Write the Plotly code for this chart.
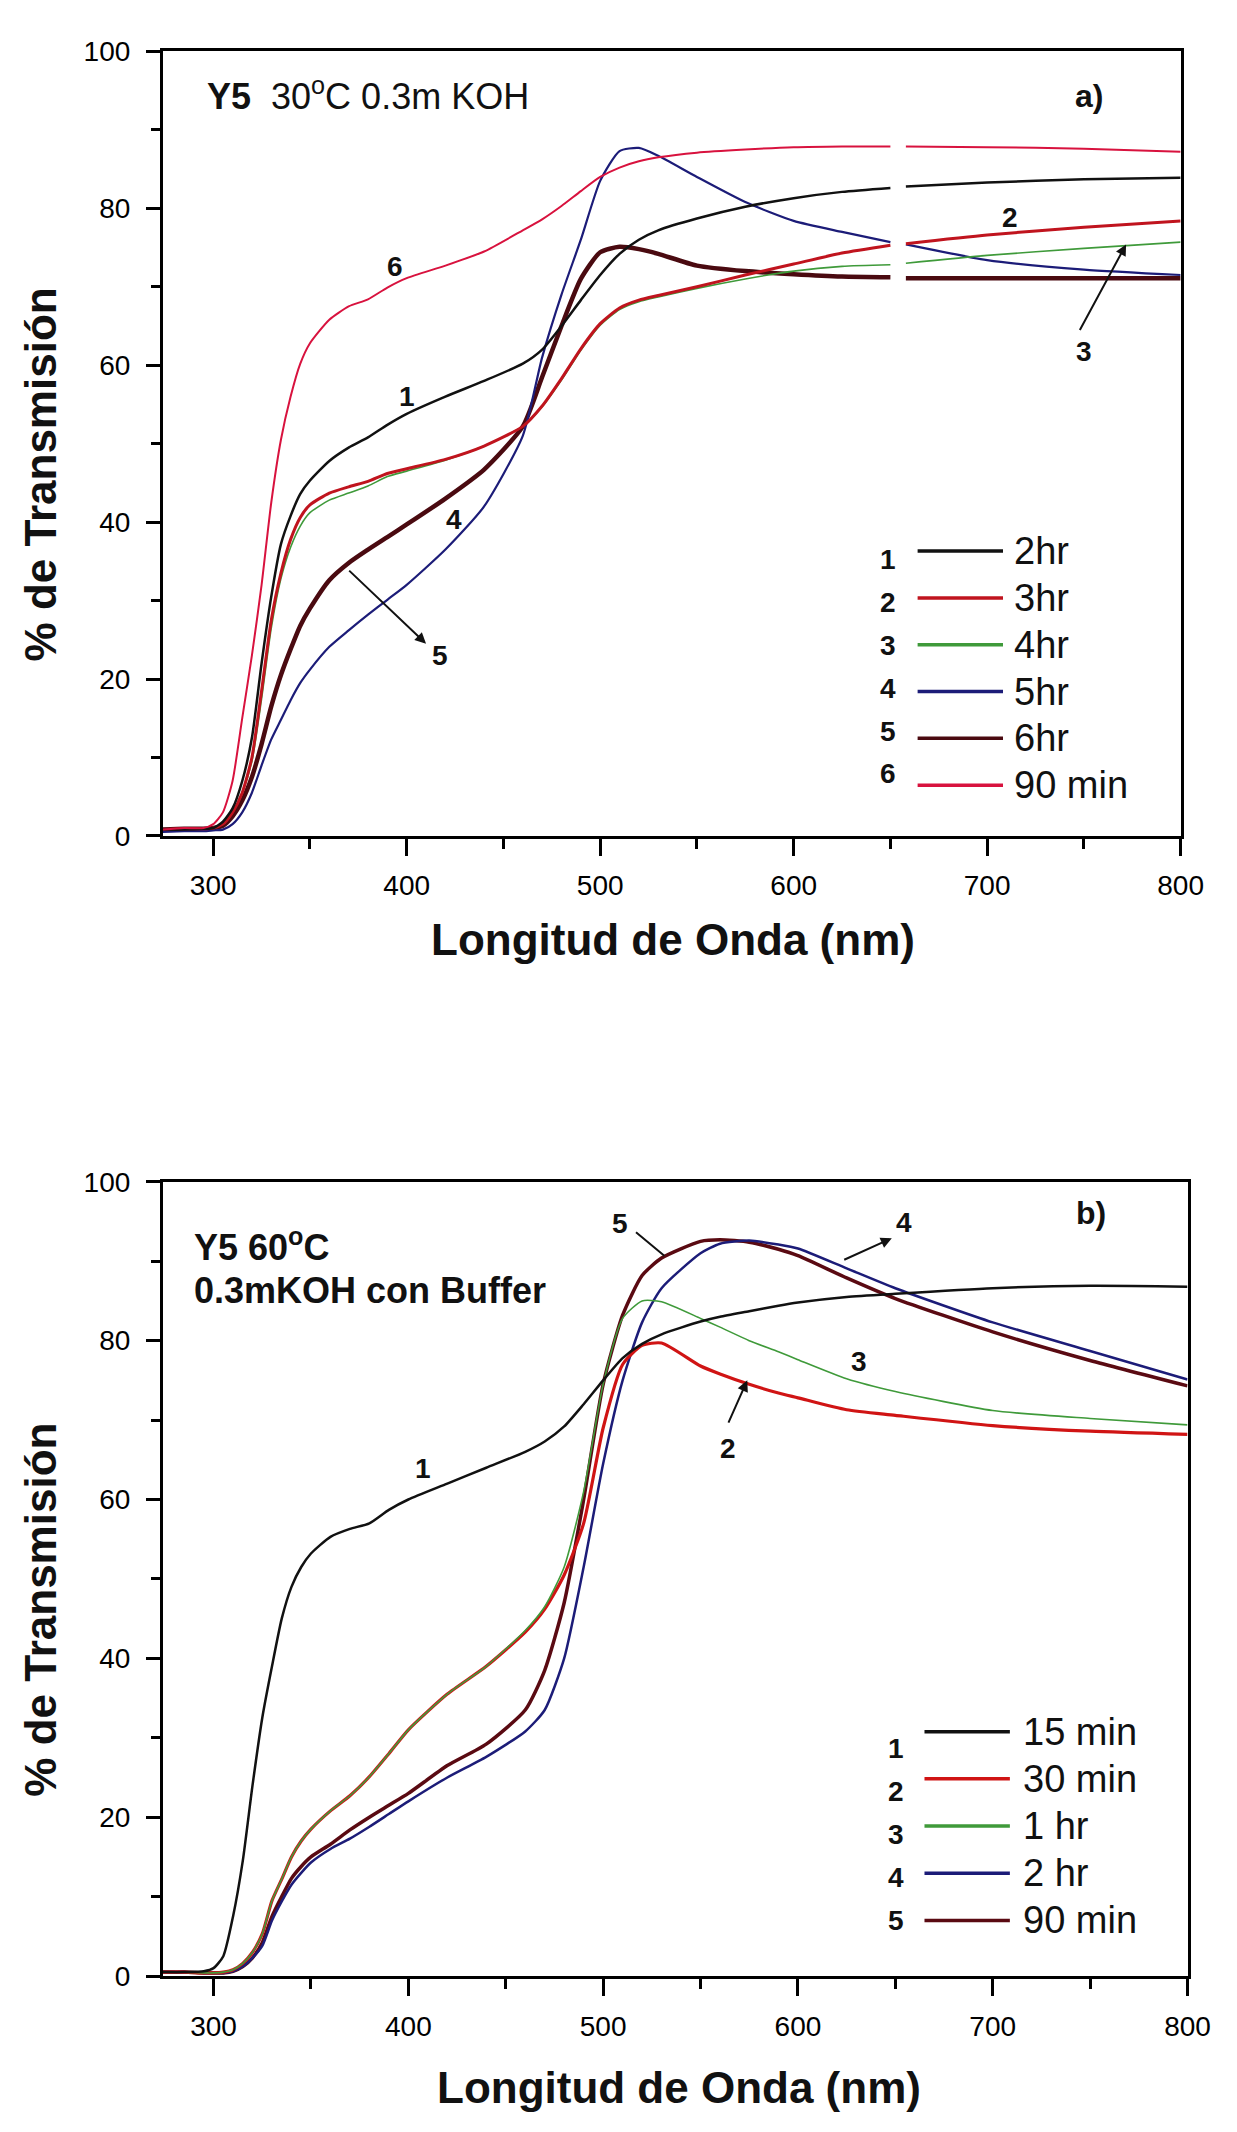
import plotly.graph_objects as go

FIG_W, FIG_H = 1237, 2132
FONT = "Liberation Sans, Arial, Helvetica, sans-serif"

# ---------------- Panel a): Y5, 30 C, 0.3 m KOH ----------------
wl_a = [274, 285, 295, 300, 305, 310, 315, 320, 325, 330,
        335, 340, 345, 350, 360, 370, 380, 390, 400, 420,
        440, 460, 470, 480, 490, 500, 510, 520, 530, 550,
        575, 600, 625, 650, 654, 658, 700, 750, 800]

a_2hr = [0.8, 0.8, 0.9, 1.0, 1.8, 3.5, 7, 12.5, 22, 30.5,
         37.2, 40.8, 43.6, 45.3, 47.8, 49.5, 50.8, 52.4, 53.8, 56,
         58, 60.2, 62, 65, 68.3, 71.5, 74.2, 76, 77.2, 78.7,
         80.2, 81.3, 82.1, 82.6, None, 82.8, 83.3, 83.7, 83.9]
a_3hr = [0.8, 0.9, 0.9, 1.0, 1.5, 3, 5.5, 10, 18.5, 27.5,
         33.5, 37.8, 40.6, 42.2, 43.7, 44.5, 45.2, 46.2, 46.8, 48,
         49.7, 52.2, 54.8, 58.3, 62.1, 65.3, 67.3, 68.3, 68.9, 70,
         71.5, 72.9, 74.3, 75.3, None, 75.5, 76.6, 77.6, 78.4]
a_4hr = [0.8, 0.9, 0.9, 1.0, 1.5, 3, 5.5, 9.5, 17.5, 26.5,
         32.8, 36.8, 39.5, 41.2, 42.8, 43.7, 44.6, 45.8, 46.5, 47.9,
         49.7, 52.2, 54.7, 58.1, 61.9, 65.1, 67.1, 68.1, 68.7, 69.8,
         71, 72, 72.6, 72.8, None, 73, 74, 74.9, 75.7]
a_5hr = [0.5, 0.6, 0.6, 0.7, 0.8, 1.5, 3, 5.5, 9, 12.3,
         14.8, 17.3, 19.5, 21.2, 24.1, 26.2, 28.2, 30.1, 32, 36.5,
         42, 51, 61, 69, 76, 83.5, 87.3, 87.7, 86.7, 84,
         80.8, 78.4, 77, 75.7, None, 75.4, 73.4, 72.2, 71.5]
a_6hr = [0.8, 0.9, 0.9, 1.0, 1.3, 2.5, 4.5, 7.5, 11.7, 16.5,
         20.5, 23.8, 26.8, 29, 32.6, 34.8, 36.5, 38.1, 39.7, 43,
         46.7, 52.2, 58.5, 65, 71, 74.4, 75.1, 74.8, 74.2, 72.7,
         72, 71.6, 71.3, 71.2, None, 71.1, 71.1, 71.1, 71.1]
a_90min = [0.8, 1.0, 1.0, 1.5, 3, 7, 15, 23, 32, 42.5,
           50.5, 56, 60.2, 62.8, 65.8, 67.5, 68.4, 69.9, 71.1, 72.7,
           74.5, 77.2, 78.6, 80.3, 82.2, 84, 85.2, 86, 86.5, 87.1,
           87.5, 87.8, 87.9, 87.9, None, 87.9, 87.8, 87.6, 87.2]

series_a = [a_2hr, a_3hr, a_4hr, a_5hr, a_6hr, a_90min]
names_a = ["2hr", "3hr", "4hr", "5hr", "6hr", "90 min"]
colors_a = ["#111111", "#c0141e", "#3f9a3a", "#1c1c78", "#4a0a10", "#d8123e"]
widths_a = [2.5, 3, 1.6, 2.2, 4.5, 2]

# ---------------- Panel b): Y5, 60 C, 0.3 m KOH con Buffer ----------------
wl_b = [274, 285, 295, 300, 305, 310, 315, 320, 325, 330,
        335, 340, 345, 350, 360, 370, 380, 390, 400, 420,
        440, 460, 470, 480, 490, 500, 510, 520, 530, 550,
        560, 575, 590, 600, 625, 650, 700, 750, 800]

b_15min = [0.5, 0.5, 0.6, 1.0, 2.5, 7.5, 14.5, 24, 32.5, 39,
           45, 49, 51.5, 53.2, 55.3, 56.3, 57, 58.7, 60, 62,
           64, 66, 67.3, 69.2, 72, 75, 77.8, 79.6, 80.8, 82.4,
           83, 83.7, 84.4, 84.8, 85.5, 85.9, 86.6, 86.9, 86.8]
b_30min = [0.5, 0.5, 0.4, 0.4, 0.5, 0.8, 1.6, 3, 5.3, 9.5,
           12.2, 15, 17, 18.5, 20.8, 22.7, 25.1, 28, 31, 35.5,
           39, 43.3, 46.2, 50.5, 57, 69, 77, 79.4, 79.7, 76.8,
           75.8, 74.5, 73.4, 72.8, 71.3, 70.6, 69.3, 68.6, 68.2]
b_1hr = [0.5, 0.5, 0.4, 0.4, 0.5, 0.8, 1.6, 3, 5.3, 9.5,
         12.2, 15, 17, 18.5, 20.8, 22.7, 25.1, 28, 31, 35.5,
         39, 43.5, 46.5, 51.5, 61, 74.5, 82.8, 85, 84.9, 82.8,
         81.7, 80, 78.6, 77.6, 75.2, 73.6, 71.2, 70.2, 69.4]
b_2hr = [0.5, 0.5, 0.4, 0.4, 0.4, 0.6, 1.2, 2.3, 3.8, 7,
         9.4, 11.5, 13, 14.3, 16, 17.3, 18.8, 20.4, 22, 25,
         27.6, 30.8, 33.5, 40, 51.5, 64.5, 75, 82.3, 86.6, 91,
         92.2, 92.6, 92.1, 91.6, 89.1, 86.6, 82.3, 78.7, 75.1]
b_90min = [0.5, 0.5, 0.4, 0.4, 0.4, 0.6, 1.2, 2.3, 4.2, 7.5,
           10, 12.3, 13.8, 15, 16.6, 18.4, 20, 21.5, 23, 26.5,
           29.2, 33.5, 38.5, 47, 60, 74.5, 83.2, 88.2, 90.4, 92.5,
           92.7, 92.4, 91.5, 90.7, 87.9, 85.3, 81.1, 77.5, 74.3]

series_b = [b_15min, b_30min, b_1hr, b_2hr, b_90min]
names_b = ["15 min", "30 min", "1 hr", "2 hr", "90 min"]
colors_b = ["#111111", "#d01414", "#3f9a3a", "#1c1c78", "#5a0a12"]
widths_b = [2.5, 3.2, 1.6, 2.5, 3.5]

x_ticks = [300, 400, 500, 600, 700, 800]
y_ticks = [0, 20, 40, 60, 80, 100]


def px(x):
    return x / FIG_W


def py(y):
    return 1 - y / FIG_H


fig = go.Figure()

# thick curves first so the thin ones stay visible on top
order_a = [4, 3, 2, 1, 0, 5]
for i in order_a:
    fig.add_trace(go.Scatter(
        x=wl_a, y=series_a[i], mode="lines", name=names_a[i],
        line=dict(color=colors_a[i], width=widths_a[i], shape="spline", smoothing=0.6),
        connectgaps=False, xaxis="x", yaxis="y", showlegend=False))

order_b = [4, 3, 1, 2, 0]
for i in order_b:
    fig.add_trace(go.Scatter(
        x=wl_b, y=series_b[i], mode="lines", name=names_b[i],
        line=dict(color=colors_b[i], width=widths_b[i], shape="spline", smoothing=0.6),
        xaxis="x2", yaxis="y2", showlegend=False))

tickfont = dict(family=FONT, size=28, color="#000000")
common = dict(showline=True, linewidth=3, linecolor="black", mirror=True,
              ticks="outside", tickwidth=2.5, tickcolor="black",
              showgrid=False, zeroline=False, tickfont=tickfont)

xaxis_common = dict(common, range=[274, 800], tickmode="array", tickvals=x_ticks,
                    ticklen=17, ticklabelstandoff=6,
                    minor=dict(tick0=300, dtick=50, ticks="outside", ticklen=10,
                               tickwidth=2.5, tickcolor="black"))
yaxis_common = dict(common, range=[0, 100], tickmode="array", tickvals=y_ticks,
                    ticklen=14, ticklabelstandoff=10,
                    minor=dict(tick0=0, dtick=10, ticks="outside", ticklen=9,
                               tickwidth=2.5, tickcolor="black"))

fig.update_layout(
    width=FIG_W, height=FIG_H,
    margin=dict(l=0, r=0, t=0, b=0),
    paper_bgcolor="white", plot_bgcolor="white",
    showlegend=False,
    xaxis=dict(xaxis_common, domain=[px(166), px(1203)], anchor="y"),
    yaxis=dict(yaxis_common, domain=[py(833), py(37)], anchor="x"),
    xaxis2=dict(xaxis_common, domain=[px(166), px(1210)], anchor="y2"),
    yaxis2=dict(yaxis_common, domain=[py(1990), py(1184)], anchor="x2"),
)

ann = []
shapes = []


def paper_text(text, x, y, size, bold=False, xanchor="center", yanchor="middle", angle=0):
    t = f"<b>{text}</b>" if bold else text
    ann.append(dict(text=t, x=px(x), y=py(y), xref="paper", yref="paper",
                    xanchor=xanchor, yanchor=yanchor, showarrow=False, textangle=angle,
                    font=dict(family=FONT, size=size, color="#111111")))


def data_text(text, x, y, axis, size=28):
    ann.append(dict(text=f"<b>{text}</b>", x=x, y=y, xref="x" + axis, yref="y" + axis,
                    showarrow=False, font=dict(family=FONT, size=size, color="#111111")))


def data_arrow(head, tail, axis, head_style=2):
    ann.append(dict(text="", x=head[0], y=head[1], ax=tail[0], ay=tail[1],
                    xref="x" + axis, yref="y" + axis, axref="x" + axis, ayref="y" + axis,
                    showarrow=True, arrowhead=head_style, arrowsize=1.1, arrowwidth=2,
                    arrowcolor="#111111"))


# axis titles
for yc in (466, 1618):
    paper_text("% de Transmisión", 41, yc, 44, bold=True, angle=-90)
paper_text("Longitud de Onda (nm)", 686, 938, 44, bold=True)
paper_text("Longitud de Onda (nm)", 692, 2103, 44, bold=True)

# panel a) texts
ann.append(dict(text="<b>Y5</b>\u00a0\u00a030<sup>o</sup>C 0.3m KOH", x=295.6, y=94.6,
                xref="x", yref="y", xanchor="left", yanchor="middle", showarrow=False,
                font=dict(family=FONT, size=36, color="#111111")))
data_text("a)", 752.7, 94.3, "", size=32)
data_text("6", 393.9, 72.6, "")
data_text("1", 400.0, 56.0, "")
data_text("4", 424.3, 40.3, "")
data_text("5", 417.2, 23.0, "")
data_text("2", 711.7, 78.8, "")
data_text("3", 749.8, 61.7, "")
data_arrow((410.0, 24.5), (369.5, 34.0), "")
data_arrow((771.8, 75.4), (747.5, 64.3), "")

# panel b) texts
ann.append(dict(text="<b>Y5 60<sup>o</sup>C</b>", x=289.1, y=92.1, xref="x2", yref="y2",
                xanchor="left", yanchor="middle", showarrow=False,
                font=dict(family=FONT, size=36, color="#111111")))
ann.append(dict(text="<b>0.3mKOH con Buffer</b>", x=289.1, y=86.3, xref="x2", yref="y2",
                xanchor="left", yanchor="middle", showarrow=False,
                font=dict(family=FONT, size=36, color="#111111")))
data_text("b)", 750.6, 96.1, "2", size=32)
data_text("1", 407.3, 63.9, "2")
data_text("2", 563.9, 66.4, "2")
data_text("3", 631.3, 77.4, "2")
data_text("5", 508.9, 94.7, "2")
data_text("4", 654.4, 94.9, "2")
data_arrow((648.2, 92.9), (623.0, 90.1), "2")
data_arrow((574.0, 75.0), (564.0, 69.5), "2")
data_arrow((531.4, 90.7), (516.1, 93.8), "2", head_style=0)


# legends: number, line key, label
def legend(names, colors, line_y0, step, x0, x1, text_x, num_x, num_y0, num_step):
    for k, (name, col) in enumerate(zip(names, colors)):
        yl = line_y0 + k * step
        shapes.append(dict(type="line", xref="paper", yref="paper",
                           x0=px(x0), x1=px(x1), y0=py(yl), y1=py(yl),
                           line=dict(color=col, width=3.5)))
        paper_text(name, text_x, yl, 38, xanchor="left")
        paper_text(str(k + 1), num_x, num_y0 + k * num_step, 28, bold=True)


legend(names_a, colors_a, 544, 47.5, 935, 1022, 1031, 905, 553, 43.4)
legend(names_b, colors_b, 1742, 47.9, 942, 1029, 1040, 913, 1759, 43.6)

fig.update_layout(annotations=ann, shapes=shapes)
fig.write_html("out.html")
